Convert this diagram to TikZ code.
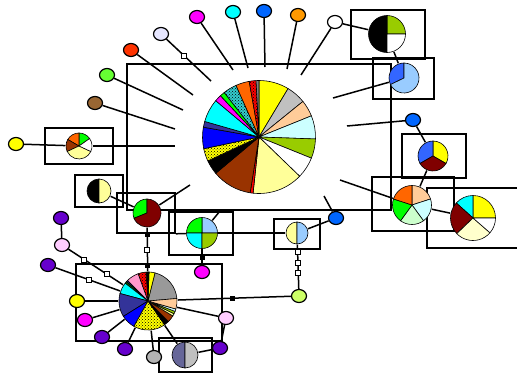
\documentclass[tikz,border=0pt]{standalone}
\usepackage{tikz}
\usetikzlibrary{shapes.geometric,patterns}

\definecolor{cYellow}{HTML}{FFFF00}
\definecolor{cSilver}{HTML}{C0C0C0}
\definecolor{cGray}{HTML}{999999}
\definecolor{cPeach}{HTML}{FFCC99}
\definecolor{cLtCyan}{HTML}{CCFFFF}
\definecolor{cOlive}{HTML}{99CC00}
\definecolor{cLtYellow}{HTML}{FFFF99}
\definecolor{cCream}{HTML}{FFFFCC}
\definecolor{cBrown}{HTML}{993300}
\definecolor{cBlue}{HTML}{0000FF}
\definecolor{cNavy}{HTML}{333399}
\definecolor{cCyan}{HTML}{00FFFF}
\definecolor{cMagenta}{HTML}{FF00FF}
\definecolor{cGreen}{HTML}{00FF00}
\definecolor{cTeal}{HTML}{33CCCC}
\definecolor{cOrange}{HTML}{FF6600}
\definecolor{cRed}{HTML}{FF0000}
\definecolor{cMaroon}{HTML}{800000}
\definecolor{cRoyal}{HTML}{3366FF}
\definecolor{cLtBlue}{HTML}{99CCFF}
\definecolor{cLtGreen}{HTML}{CCFFCC}
\definecolor{cDkGreen}{HTML}{006600}
\definecolor{cPink}{HTML}{FF99CC}
\definecolor{cSlate}{HTML}{666699}
\definecolor{nWhite}{HTML}{FFFFFF}
\definecolor{nOrange}{HTML}{FF9900}
\definecolor{nBlue}{HTML}{0066FF}
\definecolor{nLavender}{HTML}{E6E6FF}
\definecolor{nRed}{HTML}{FF3300}
\definecolor{nGreen}{HTML}{66FF33}
\definecolor{nBrown}{HTML}{996633}
\definecolor{nPurple}{HTML}{6600CC}
\definecolor{nPink}{HTML}{FFCCFF}
\definecolor{nGray}{HTML}{B2B2B2}
\definecolor{nLime}{HTML}{CCFF66}

\newcommand{\drawpie}[3]{%
  \foreach \sa/\ea/\col in {#3}
    \filldraw[wedgeln,fill=\col] (#1.center) -- ++(\sa:#2pt)
      arc[start angle=\sa,end angle=\ea,radius=#2pt] -- cycle;}
\newcommand{\checkpie}[4]{%
  \fill[pattern=crosshatch dots] (#1.center) -- ++(#3:#2pt)
      arc[start angle=#3,end angle=#4,radius=#2pt] -- cycle;}

\begin{document}
\begin{tikzpicture}[x=1pt,y=-1pt,line width=1.5pt,
                    grp/.style={draw,rectangle,inner sep=0pt,line width=1.6pt},
                    hap/.style={draw,ellipse,inner sep=0pt,minimum width=15pt,
                                minimum height=13pt,line width=1.2pt},
                    pienode/.style={circle,inner sep=0pt},
                    wedgeln/.style={draw=black,line width=0.6pt},
                    sqf/.style={draw,fill=black,inner sep=0pt,minimum size=4pt,line width=0.5pt},
                    sqo/.style={draw,fill=white,inner sep=0pt,minimum size=5pt,line width=1pt}]
\useasboundingbox (0,0) rectangle (517,375);

\node[grp,minimum width=264pt,minimum height=146pt] (BHUB) at (259,137) {};
\node[grp,minimum width=74pt,minimum height=49pt] (BA) at (388,34.5) {};
\node[grp,minimum width=61pt,minimum height=41pt] (BB) at (403.5,78.5) {};
\node[grp,minimum width=64pt,minimum height=44pt] (BC) at (434,156) {};
\node[grp,minimum width=82pt,minimum height=54pt] (BD) at (413,204) {};
\node[grp,minimum width=93pt,minimum height=60pt] (BE) at (473.5,218) {};
\node[grp,minimum width=46pt,minimum height=30pt] (BF) at (297,234) {};
\node[grp,minimum width=64pt,minimum height=43pt] (BG) at (201,233.5) {};
\node[grp,minimum width=58pt,minimum height=40pt] (BH) at (146,213) {};
\node[grp,minimum width=48pt,minimum height=32pt] (BI) at (99,191) {};
\node[grp,minimum width=68pt,minimum height=36pt] (BJ) at (79,146) {};
\node[grp,minimum width=146pt,minimum height=77pt] (BK) at (149,302.5) {};
\node[grp,minimum width=53pt,minimum height=34pt] (BL) at (185.5,355) {};

\node[hap,fill=nWhite] (WHT) at (335,22) {};
\node[hap,fill=nOrange] (ORG) at (298,15) {};
\node[hap,fill=nBlue] (BLU1) at (264,11) {};
\node[hap,fill=cCyan] (CYN) at (233,12) {};
\node[hap,fill=cMagenta] (MAG1) at (197,17) {};
\node[hap,fill=nLavender] (LAV) at (161,34) {};
\node[hap,fill=nRed] (RED) at (131,50) {};
\node[hap,fill=nGreen] (GRN) at (107,75) {};
\node[hap,fill=nBrown] (BRN) at (95,103) {};
\node[hap,fill=cYellow] (YEL1) at (16,144) {};
\node[hap,fill=nBlue] (BLU2) at (413,120) {};
\node[hap,fill=nBlue] (BLU3) at (336,218) {};
\node[hap,fill=nPurple] (PUR1) at (61,218) {};
\node[hap,fill=nPink] (PNK1) at (62,245) {};
\node[hap,fill=nPurple] (PUR2) at (48,265) {};
\node[hap,fill=cYellow] (YEL2) at (77,301) {};
\node[hap,fill=cMagenta] (MAG2) at (85,320) {};
\node[hap,fill=nPurple] (PUR3) at (102,337) {};
\node[hap,fill=nPurple] (PUR4) at (125,349) {};
\node[hap,fill=nGray] (GRY) at (154,357) {};
\node[hap,fill=nPurple] (PUR5) at (220,348) {};
\node[hap,fill=nPink] (PNK2) at (226,318) {};
\node[hap,fill=cMagenta] (MAG3) at (202,272) {};
\node[hap,fill=nLime] (LIM) at (299,296) {};

\node[pienode,minimum size=113pt] (HUB) at (259,137) {};
\node[pienode,minimum size=37pt] (PA) at (387,34) {};
\node[pienode,minimum size=30pt] (PB) at (404,78) {};
\node[pienode,minimum size=30pt] (PC) at (433,156) {};
\node[pienode,minimum size=39pt] (PD) at (412,205) {};
\node[pienode,minimum size=45pt] (PE) at (473,218) {};
\node[pienode,minimum size=22pt] (PF) at (297,233) {};
\node[pienode,minimum size=31pt] (PG) at (202,233) {};
\node[pienode,minimum size=28pt] (PH) at (147,213) {};
\node[pienode,minimum size=24pt] (PI) at (99,191) {};
\node[pienode,minimum size=26pt] (PJ) at (79,146) {};
\node[pienode,minimum size=58pt] (PK) at (148,301) {};
\node[pienode,minimum size=26pt] (PL) at (185,355) {};

\drawpie{HUB}{56.5}{59/90/cYellow,39/59/cSilver,22/39/cPeach,-2/22/cLtCyan,
  -22/-2/cOlive,-44/-22/white,-96/-44/cLtYellow,-99/-96/cRed,-140/-99/cBrown,
  -155/-140/black,-168/-155/cYellow,-190/-168/cBlue,-196/-190/cNavy,
  -220/-196/cCyan,-227/-220/cMagenta,-232/-227/cGreen,-246/-232/cTeal,
  -260/-246/cOrange,-267/-260/cRed,-270/-267/gray}
\checkpie{HUB}{56.5}{-168}{-155}
\checkpie{HUB}{56.5}{-246}{-232}
\checkpie{HUB}{56.5}{-267}{-260}
\drawpie{PA}{18.5}{0/90/cOlive,90/270/black,270/360/white}
\drawpie{PB}{15}{90/206/cRoyal,206/450/cLtBlue}
\drawpie{PC}{15}{-30/90/cYellow,90/210/cRoyal,210/330/cMaroon}
\drawpie{PD}{19.5}{18/90/cPeach,-54/18/cLtCyan,-126/-54/cLtGreen,
  162/234/cGreen,90/162/cOrange}
\drawpie{PE}{22.5}{0/90/cYellow,90/138/cCyan,138/224/cMaroon,
  224/319/cCream,319/360/white}
\drawpie{PF}{11}{90/270/cLtYellow,-90/90/cLtBlue}
\drawpie{PG}{15.5}{0/90/cLtBlue,90/180/cGreen,180/270/cCyan,270/360/cOlive}
\drawpie{PH}{14}{90/202/cGreen,202/450/cMaroon}
\drawpie{PI}{12}{90/270/black,270/450/cLtYellow}
\drawpie{PJ}{13}{35/90/cGreen,90/150/cOrange,150/205/cBrown,
  205/335/cLtYellow,335/395/white}
\drawpie{PK}{29}{5/76/cGray,76/88/cYellow,88/94/black,94/110/cRed,
  110/135/cPink,135/138/cNavy,138/142/cDkGreen,142/165/cCyan,
  165/212/cNavy,212/241/cBlue,241/305/cYellow,305/315/black,
  315/329/cBrown,329/334/cLtYellow,334/339/cOlive,339/344/cLtCyan,
  344/365/cPeach}
\checkpie{PK}{29}{241}{305}
\checkpie{PK}{29}{94}{110}
\drawpie{PL}{13}{90/270/cSlate,-90/90/cSilver}

\coordinate (T1) at (301,75);
\coordinate (T2) at (287,69);
\coordinate (T3) at (265,67);
\coordinate (T4) at (248,68);
\coordinate (T5) at (233,70);
\coordinate (T6) at (211,81);
\coordinate (T7) at (193,95);
\coordinate (T8) at (183,110);
\coordinate (T9) at (175,129);
\coordinate (T10) at (175,146);
\coordinate (T11) at (333,98);
\coordinate (T12) at (347,126);
\coordinate (T13) at (340,180);
\coordinate (T14) at (324,196);
\coordinate (T15) at (190,185);
\coordinate (T16) at (220,211);

\path (WHT) edge (T1) edge (PA)
      (ORG) edge (T2)
      (BLU1) edge (T3)
      (CYN) edge (T4)
      (MAG1) edge (T5)
      (LAV) edge node[pos=0.4,sqo]{} (T6)
      (RED) edge (T7)
      (GRN) edge (T8)
      (BRN) edge (T9)
      (YEL1) edge (PJ)
      (PJ) edge (T10)
      (PA) edge (PB)
      (PB) edge (T11)
      (BLU2) edge (T12) edge (PC)
      (PC) edge (PD)
      (PD) edge (T13) edge (PE)
      (BLU3) edge (T14) edge (PF);

\path (BH.south east) edge (PG)
      (PG) edge (PF) edge (T16)
      (PG) edge node[pos=0.54,sqf]{} (MAG3)
      (PH) edge (T15)
      (PI) edge (PH)
      (PH) edge node[pos=0.16,sqf]{} node[pos=0.51,sqo]{} node[pos=0.87,sqf]{} (PK)
      (PF) edge node[pos=0.17,sqo]{} node[pos=0.41,sqo]{} node[pos=0.65,sqo]{} (LIM)
      (LIM) edge node[pos=0.52,sqf]{} (PK);

\path (PUR1) edge (PNK1)
      (PNK1) edge node[pos=0.29,sqo]{} node[pos=0.71,sqo]{} (PK)
      (PUR2) edge node[pos=0.52,sqo]{} (PK)
      (YEL2) edge (PK)
      (MAG2) edge (PK)
      (PUR3) edge (PK)
      (PUR4) edge (PK)
      (GRY) edge (PK)
      (PL) edge (PK) edge (PUR5)
      (PUR5) edge (PNK2)
      (PNK2) edge (PK);
\end{tikzpicture}
\end{document}
